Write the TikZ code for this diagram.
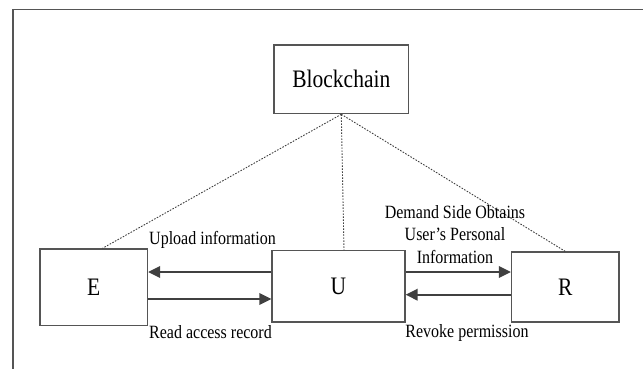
\documentclass[tikz,border=0pt]{standalone}
\usepackage{fontspec}
\usepackage{graphicx}
\setmainfont{Liberation Serif}
\usetikzlibrary{arrows.meta,calc}

\definecolor{edgegray}{HTML}{555555}
\definecolor{arrowgray}{HTML}{404040}

% slightly tall lettering
\newcommand{\tallt}[1]{\scalebox{1}[1.17]{#1}}

\tikzset{
  box/.style={draw=edgegray, line width=1.3pt, inner sep=0pt},
  bigtext/.style={font=\fontsize{21.5}{24}\selectfont},
  lbl/.style={font=\fontsize{16}{19.3}\selectfont, inner sep=0pt, yscale=1.17, transform shape},
  link/.style={draw=arrowgray, line width=0.9pt, dash pattern=on 1.6pt off 1.4pt},
  flow/.style={draw=arrowgray, line width=2pt,
    -{Triangle[length=12pt,width=11.5pt]}},
}

\begin{document}
\begin{tikzpicture}[x=1pt,y=1pt]
  \useasboundingbox (0,0) rectangle (643,-369);

  % outer frame (open at the bottom and right)
  \draw[edgegray, line width=1.4pt] (13,-369) -- (13,-9.3) -- (643,-9.3);

  % entities
  \node[box, bigtext, minimum width=134.6pt, minimum height=68.7pt] (B) at (341.3,-79.3) {\tallt{Blockchain}};
  \node[box, bigtext, minimum width=107.5pt, minimum height=76.7pt] (E) at (93.75,-287.3) {\tallt{E}};
  \node[box, bigtext, minimum width=133pt, minimum height=71.3pt] (U) at (338.5,-286.3) {\tallt{U}};
  \node[box, bigtext, minimum width=107.5pt, minimum height=70pt] (R) at (565.25,-287) {\tallt{R}};

  % ledger links
  \draw[link] (B.south) -- ([xshift=8.75pt]E.north);
  \draw[link] (B.south) -- ([xshift=5.5pt]U.north);
  \draw[link] (B.south) -- (R.north);

  % data flows
  \draw[flow] ([yshift=14.3pt]U.west) -- ([yshift=14.3pt]U.west -| E.east);
  \draw[flow] ([yshift=-12.7pt]U.west -| E.east) -- ([yshift=-12.7pt]U.west);
  \draw[flow] ([yshift=14.3pt]U.east) -- ([yshift=14.3pt]U.east -| R.west);
  \draw[flow] ([yshift=-8.4pt]U.east -| R.west) -- ([yshift=-8.4pt]U.east);

  % flow labels
  \node[lbl, anchor=west] (l1) at (149,-240) {Upload information};
  \node[lbl, anchor=west] (l2) at (149,-331.7) {Read access record};
  \node[lbl, align=center] (l3) at (455,-234.5) {Demand Side Obtains\\User’s Personal\\Information};
  \node[lbl] (l4) at (467,-333) {Revoke permission};
\end{tikzpicture}
\end{document}
